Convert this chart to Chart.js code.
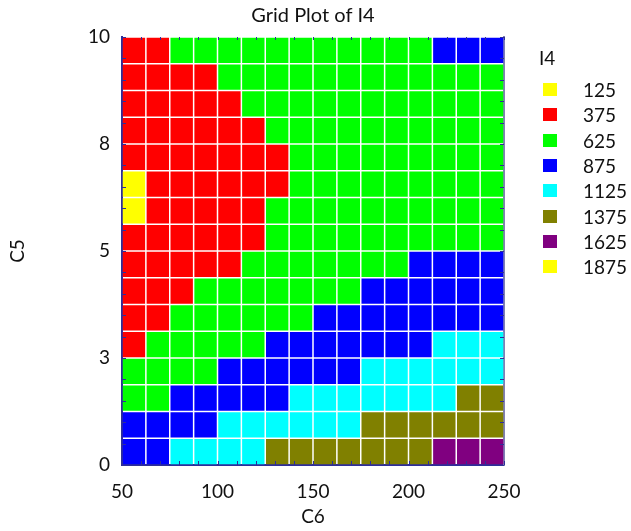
<!DOCTYPE html>
<html>
<head>
<meta charset="utf-8">
<script src="https://cdn.jsdelivr.net/npm/chart.js@4/dist/chart.umd.min.js"></script>
<style>
  html, body { margin: 0; padding: 0; background: #fff; }
  #wrap { position: relative; width: 631px; height: 531px; }
  #legend { position: absolute; left: 539px; top: 43px; font-family: Lato, sans-serif; color: #111; }
  #legend .ttl { font-size: 19px; height: 34px; line-height: 30px; }
  #legend .item { height: 25.3px; display: flex; align-items: center; font-size: 19px; }
  #legend .box { width: 14px; height: 13px; margin-left: 4px; margin-right: 26px; }
</style>
</head>
<body>
<div id="wrap">
  <canvas id="grid" width="631" height="531"></canvas>
  <div id="legend"></div>
</div>
<script>
// cell centres along C6 (x) and C5 (y), top row first
const c6Centers = [56.25, 68.75, 81.25, 93.75, 106.25, 118.75, 131.25, 143.75,
                   156.25, 168.75, 181.25, 193.75, 206.25, 218.75, 231.25, 243.75];
const c5Centers = [9.6875, 9.0625, 8.4375, 7.8125, 7.1875, 6.5625, 5.9375, 5.3125,
                   4.6875, 4.0625, 3.4375, 2.8125, 2.1875, 1.5625, 0.9375, 0.3125];

// I4 level of each cell, rows follow c5Centers, columns follow c6Centers
const i4Grid = [
  [375, 375, 625, 625, 625, 625, 625, 625, 625, 625, 625, 625, 625, 875, 875, 875],
  [375, 375, 375, 375, 625, 625, 625, 625, 625, 625, 625, 625, 625, 625, 625, 625],
  [375, 375, 375, 375, 375, 625, 625, 625, 625, 625, 625, 625, 625, 625, 625, 625],
  [375, 375, 375, 375, 375, 375, 625, 625, 625, 625, 625, 625, 625, 625, 625, 625],
  [375, 375, 375, 375, 375, 375, 375, 625, 625, 625, 625, 625, 625, 625, 625, 625],
  [125, 375, 375, 375, 375, 375, 375, 625, 625, 625, 625, 625, 625, 625, 625, 625],
  [125, 375, 375, 375, 375, 375, 625, 625, 625, 625, 625, 625, 625, 625, 625, 625],
  [375, 375, 375, 375, 375, 375, 625, 625, 625, 625, 625, 625, 625, 625, 625, 625],
  [375, 375, 375, 375, 375, 625, 625, 625, 625, 625, 625, 625, 875, 875, 875, 875],
  [375, 375, 375, 625, 625, 625, 625, 625, 625, 625, 875, 875, 875, 875, 875, 875],
  [375, 375, 625, 625, 625, 625, 625, 625, 875, 875, 875, 875, 875, 875, 875, 875],
  [375, 625, 625, 625, 625, 625, 875, 875, 875, 875, 875, 875, 875, 1125, 1125, 1125],
  [625, 625, 625, 625, 875, 875, 875, 875, 875, 875, 1125, 1125, 1125, 1125, 1125, 1125],
  [625, 625, 875, 875, 875, 875, 875, 1125, 1125, 1125, 1125, 1125, 1125, 1125, 1375, 1375],
  [875, 875, 875, 875, 1125, 1125, 1125, 1125, 1125, 1125, 1375, 1375, 1375, 1375, 1375, 1375],
  [875, 875, 1125, 1125, 1125, 1125, 1375, 1375, 1375, 1375, 1375, 1375, 1375, 1625, 1625, 1625]
];

const i4Levels = [125, 375, 625, 875, 1125, 1375, 1625, 1875];
const levelColors = ['#ffff00', '#ff0000', '#00ff00', '#0000ff', '#00ffff', '#808000', '#800080', '#ffff00'];

const cellW = 12.5;
const cellH = 0.625;
const axisColor = '#2e2e9a';
const fontFamily = 'Lato, sans-serif';

// one scatter dataset per I4 level, points at cell centres
const datasets = i4Levels.map((lvl, k) => {
  const pts = [];
  i4Grid.forEach((row, r) => {
    row.forEach((v, c) => {
      if (v === lvl) pts.push({ x: c6Centers[c], y: c5Centers[r] });
    });
  });
  return {
    label: String(lvl),
    data: pts,
    backgroundColor: levelColors[k],
    pointRadius: 0,
    pointHoverRadius: 0
  };
});

// draws each point as a full grid cell using the chart scales
const cellPlugin = {
  id: 'cells',
  beforeDatasetsDraw(chart) {
    const { ctx, scales: { x, y } } = chart;
    ctx.save();
    chart.data.datasets.forEach(ds => {
      ctx.fillStyle = ds.backgroundColor;
      ds.data.forEach(p => {
        const x0 = x.getPixelForValue(p.x - cellW / 2);
        const x1 = x.getPixelForValue(p.x + cellW / 2);
        const y0 = y.getPixelForValue(p.y + cellH / 2);
        const y1 = y.getPixelForValue(p.y - cellH / 2);
        ctx.fillRect(x0 + 0.75, y0 + 0.75, x1 - x0 - 1.5, y1 - y0 - 1.5);
      });
    });
    ctx.restore();
  },
  // small tick marks pointing into the plot on all four sides
  afterDatasetsDraw(chart) {
    const { ctx, chartArea: a, scales: { x, y } } = chart;
    ctx.save();
    ctx.strokeStyle = axisColor;
    ctx.lineWidth = 1;
    ctx.beginPath();
    x.ticks.forEach(t => {
      const px = Math.round(x.getPixelForValue(t.value)) + 0.5;
      ctx.moveTo(px, a.bottom); ctx.lineTo(px, a.bottom - 4);
      ctx.moveTo(px, a.top); ctx.lineTo(px, a.top + 3);
    });
    y.ticks.forEach(t => {
      const py = Math.round(y.getPixelForValue(t.value)) + 0.5;
      ctx.moveTo(a.left, py); ctx.lineTo(a.left + 4, py);
      ctx.moveTo(a.right, py); ctx.lineTo(a.right - 4, py);
    });
    ctx.stroke();
    ctx.restore();
  }
};

const ctx = document.getElementById('grid').getContext('2d');
new Chart(ctx, {
  type: 'scatter',
  data: { datasets },
  plugins: [cellPlugin],
  options: {
    responsive: false,
    animation: false,
    events: [],
    layout: { padding: { right: 125 } },
    plugins: {
      legend: { display: false },
      tooltip: { enabled: false },
      title: {
        display: true,
        fullSize: false,
        text: 'Grid Plot of I4',
        color: '#111',
        font: { family: fontFamily, size: 20, weight: 'normal' },
        padding: { top: 4, bottom: 0 }
      }
    },
    scales: {
      x: {
        type: 'linear', position: 'bottom', min: 50, max: 250,
        afterFit: s => { s.height = 66; },
        border: { color: axisColor, width: 2 },
        grid: { drawOnChartArea: false, drawTicks: false },
        ticks: {
          stepSize: 10, autoSkip: false, maxRotation: 0, padding: 15, color: '#111',
          font: { family: fontFamily, size: 19 },
          callback: v => (v % 50 === 0 ? String(v) : '')
        },
        title: { display: true, text: 'C6', color: '#111', padding: { top: 0, bottom: 3 },
                 font: { family: fontFamily, size: 19 } }
      },
      x2: {
        type: 'linear', position: 'top', min: 50, max: 250,
        afterFit: s => { s.height = 9; },
        border: { display: false },
        grid: { drawOnChartArea: false, drawTicks: false },
        ticks: { display: false }
      },
      y: {
        type: 'linear', position: 'left', min: 0, max: 10,
        afterFit: s => { s.width = 122; },
        border: { color: axisColor, width: 2 },
        grid: { drawOnChartArea: false, drawTicks: false },
        ticks: {
          stepSize: 0.5, autoSkip: false, padding: 12, color: '#111',
          font: { family: fontFamily, size: 19 },
          callback: v => (v % 2.5 === 0 ? String(Math.round(v)) : '')
        },
        title: { display: true, text: 'C5', color: '#111', padding: { top: 6, bottom: 0 },
                 font: { family: fontFamily, size: 19 } }
      },
      y2: {
        type: 'linear', position: 'right', min: 0, max: 10,
        afterFit: s => { s.width = 2; },
        border: { color: '#8080b4', width: 2 },
        grid: { drawOnChartArea: false, drawTicks: false },
        ticks: { display: false }
      }
    }
  }
});

// legend to the right of the grid
const legend = document.getElementById('legend');
legend.innerHTML = '<div class="ttl">I4</div>' + i4Levels.map((lvl, k) =>
  `<div class="item"><span class="box" style="background:${levelColors[k]}"></span>${lvl}</div>`
).join('');
</script>
</body>
</html>
